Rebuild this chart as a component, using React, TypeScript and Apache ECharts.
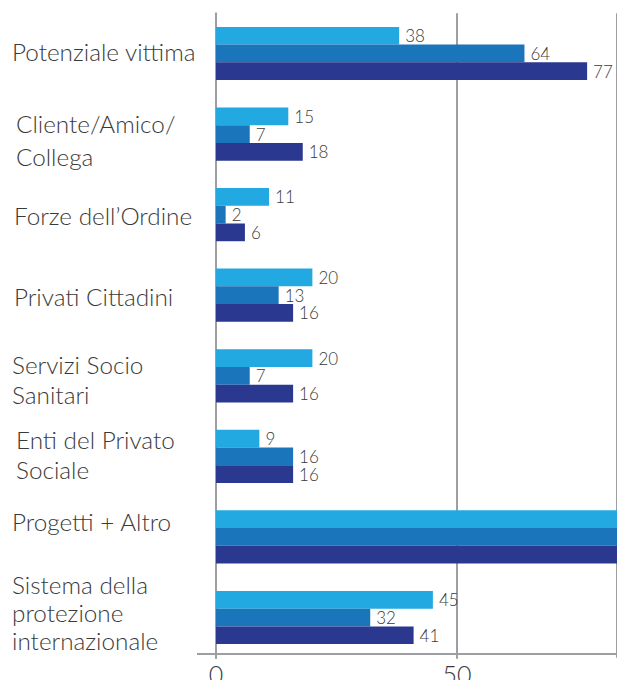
import React, { useEffect, useRef } from "react";
import * as echarts from "echarts";

const categories = [
  "Potenziale vittima",
  "Cliente/Amico/\nCollega",
  "Forze dell’Ordine",
  "Privati Cittadini",
  "Servizi Socio\nSanitari",
  "Enti del Privato\nSociale",
  "Progetti + Altro",
  "Sistema della\nprotezione\ninternazionale",
];
const seriesA = [38, 15, 11, 20, 20, 9, 100, 45];
const seriesB = [64, 7, 2, 13, 7, 16, 100, 32];
const seriesC = [77, 18, 6, 16, 16, 16, 100, 41];
const xTicks = [0, 50];

const colors = ["#22a9e1", "#1a75bb", "#2b388f"];
const X_MAX = 83.2;
const GRID_COLOR = "#9d9fa2";
const TEXT_COLOR = "#3a3a3a";
const FONT = "Lato";
const WEIGHT = 300;

// per-category label layout: left indent, line height, vertical shift (+ = down)
const labelIndent = [0, 4, 2, 2, 0, 4, 0, 0];
const labelLineHeight = [28, 33, 28, 28, 30, 30, 28, 28];
const labelShift = [-2, 6, 1, 1, 4, -2, -15, -5];

export default function App() {
  const ref = useRef<HTMLDivElement>(null);
  useEffect(() => {
    if (!ref.current) return;
    const chart = echarts.init(ref.current, null, { renderer: "svg" });
    const mk = (vals: number[], color: string, name: string) => ({
      type: "bar",
      name,
      barGap: "0%",
      barCategoryGap: "34%",
      itemStyle: { color },
      clip: true,
      label: {
        show: true,
        position: "right",
        distance: 6,
        color: TEXT_COLOR,
        fontFamily: FONT,
        fontWeight: WEIGHT,
        fontSize: 17,
        formatter: (p: any) => (p.value > X_MAX ? "" : String(p.value)),
      },
      data: vals,
    });
    const rich: Record<string, any> = {};
    categories.forEach((_, i) => {
      rich["l" + i] = {
        fontSize: 24.3,
        fontFamily: FONT,
        fontWeight: WEIGHT,
        color: TEXT_COLOR,
        lineHeight: labelLineHeight[i],
        padding: [0, 0, 0, labelIndent[i]],
        align: "left",
      };
      rich["g" + i] = {
        fontSize: 1,
        lineHeight: Math.abs(labelShift[i]) * 2,
      };
    });
    chart.setOption({
      animation: false,
      grid: {
        left: 216,
        right: 0,
        top: 13.2,
        bottom: 22.2,
        containLabel: false,
        outerBoundsMode: "none",
      },
      xAxis: {
        type: "value",
        min: xTicks[0],
        max: X_MAX,
        interval: xTicks[1] - xTicks[0],
        offset: -4,
        axisLine: { show: true, lineStyle: { color: GRID_COLOR, width: 2 } },
        axisTick: { show: true, length: 5, lineStyle: { color: GRID_COLOR, width: 2 } },
        splitLine: { show: true, lineStyle: { color: GRID_COLOR, width: 2 } },
        axisLabel: {
          showMaxLabel: false,
          margin: 8,
          color: TEXT_COLOR,
          fontFamily: FONT,
          fontWeight: WEIGHT,
          fontSize: 25,
        },
      },
      yAxis: {
        type: "category",
        inverse: true,
        data: categories,
        axisLine: { show: true, lineStyle: { color: GRID_COLOR, width: 2 } },
        axisTick: { show: false },
        axisLabel: {
          interval: 0,
          align: "left",
          margin: 204,
          color: TEXT_COLOR,
          fontFamily: FONT,
          fontWeight: WEIGHT,
          fontSize: 24.3,
          formatter: (val: string, idx: number) => {
            const lines = val.split("\n").map((s) => `{l${idx}|${s}}`);
            const sh = labelShift[idx];
            if (sh > 0) lines.unshift(`{g${idx}| }`);
            else if (sh < 0) lines.push(`{g${idx}| }`);
            return lines.join("\n");
          },
          rich,
        },
      },
      graphic: [
        {
          type: "line",
          shape: { x1: 197, y1: 654, x2: 216, y2: 654 },
          style: { stroke: GRID_COLOR, lineWidth: 2 },
        },
      ],
      series: [
        mk(seriesA, colors[0], "A"),
        mk(seriesB, colors[1], "B"),
        mk(seriesC, colors[2], "C"),
      ],
    });
    return () => chart.dispose();
  }, []);
  return (
    <div
      ref={ref}
      style={{ position: "absolute", left: 0, top: 0, width: 617, height: 680, background: "#fff" }}
    />
  );
}
